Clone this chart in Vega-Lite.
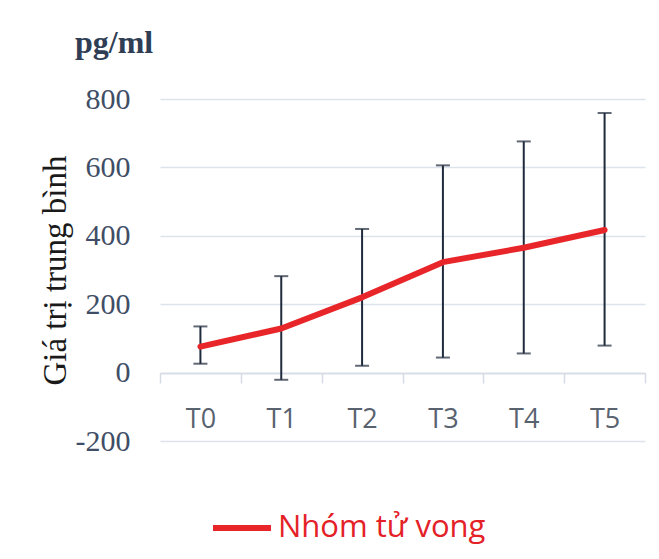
{
  "$schema": "https://vega.github.io/schema/vega-lite/v6.json",
  "autosize": {"type": "none"},
  "width": 485,
  "height": 342,
  "padding": {"left": 160, "top": 99, "right": 14, "bottom": 118},
  "background": "white",
  "config": {"view": {"stroke": null}},
  "title": {
    "text": "pg/ml",
    "anchor": "start",
    "frame": "group",
    "dx": -85,
    "offset": 24,
    "font": "Liberation Serif",
    "fontSize": 32,
    "fontWeight": "bold",
    "color": "#2f3e55"
  },
  "data": {
    "values": [
      {"t": "T0", "mean": 76, "lo": 26, "hi": 135},
      {"t": "T1", "mean": 129, "lo": -21, "hi": 282},
      {"t": "T2", "mean": 220, "lo": 20, "hi": 420},
      {"t": "T3", "mean": 323, "lo": 44, "hi": 606},
      {"t": "T4", "mean": 365, "lo": 56, "hi": 676},
      {"t": "T5", "mean": 417, "lo": 79, "hi": 759}
    ]
  },
  "encoding": {
    "x": {
      "field": "t",
      "type": "nominal",
      "sort": null,
      "scale": {"paddingInner": 0, "paddingOuter": 0},
      "axis": {
        "title": null,
        "orient": "bottom",
        "offset": -68,
        "labelAngle": 0,
        "labelFont": "Open Sans",
        "labelFontSize": 27,
        "labelColor": "#59626f",
        "labelPadding": 23,
        "domainColor": "#d5dbe4",
        "domainWidth": 1.5,
        "tickColor": "#d5dbe4",
        "tickWidth": 1.5,
        "tickSize": 10,
        "tickBand": "extent",
        "grid": false
      }
    }
  },
  "layer": [
    {
      "mark": {"type": "rule", "color": "#1f2a3c", "strokeWidth": 2},
      "encoding": {
        "y": {
          "field": "lo",
          "type": "quantitative",
          "scale": {"domain": [-200, 800], "nice": false},
          "axis": {
            "title": "Giá trị trung bình",
            "titleFont": "Liberation Serif",
            "titleFontSize": 33,
            "titleFontWeight": "normal",
            "titleColor": "#1a1a1a",
            "titleAngle": -90,
            "titleX": -105,
            "titleY": 171,
            "titleAlign": "center",
            "titleBaseline": "middle",
            "values": [-200, 0, 200, 400, 600, 800],
            "labelExpr": "replace(datum.label, '\u2212', '-')",
            "labelFont": "Liberation Serif",
            "labelFontSize": 30,
            "labelColor": "#3f4e66",
            "labelPadding": 30,
            "domain": false,
            "ticks": false,
            "grid": true,
            "gridColor": "#dce3ec",
            "gridWidth": 1.5
          }
        },
        "y2": {"field": "hi"}
      }
    },
    {
      "mark": {"type": "tick", "color": "#1f2a3c", "thickness": 2, "size": 14, "orient": "horizontal"},
      "encoding": {"y": {"field": "lo", "type": "quantitative"}}
    },
    {
      "mark": {"type": "tick", "color": "#1f2a3c", "thickness": 2, "size": 14, "orient": "horizontal"},
      "encoding": {"y": {"field": "hi", "type": "quantitative"}}
    },
    {
      "mark": {"type": "line", "strokeWidth": 6, "strokeCap": "round", "strokeJoin": "round"},
      "encoding": {
        "y": {"field": "mean", "type": "quantitative"},
        "color": {
          "datum": "Nhóm tử vong",
          "scale": {"range": ["#e8262a"]},
          "legend": {
            "title": null,
            "orient": "none",
            "legendX": 50,
            "legendY": 397,
            "symbolType": "stroke",
            "symbolSize": 3364,
            "symbolStrokeWidth": 6,
            "labelFont": "Open Sans",
            "labelFontSize": 31,
            "labelColor": "#e42127",
            "labelOffset": 4,
            "labelLimit": 0
          }
        }
      }
    }
  ]
}
